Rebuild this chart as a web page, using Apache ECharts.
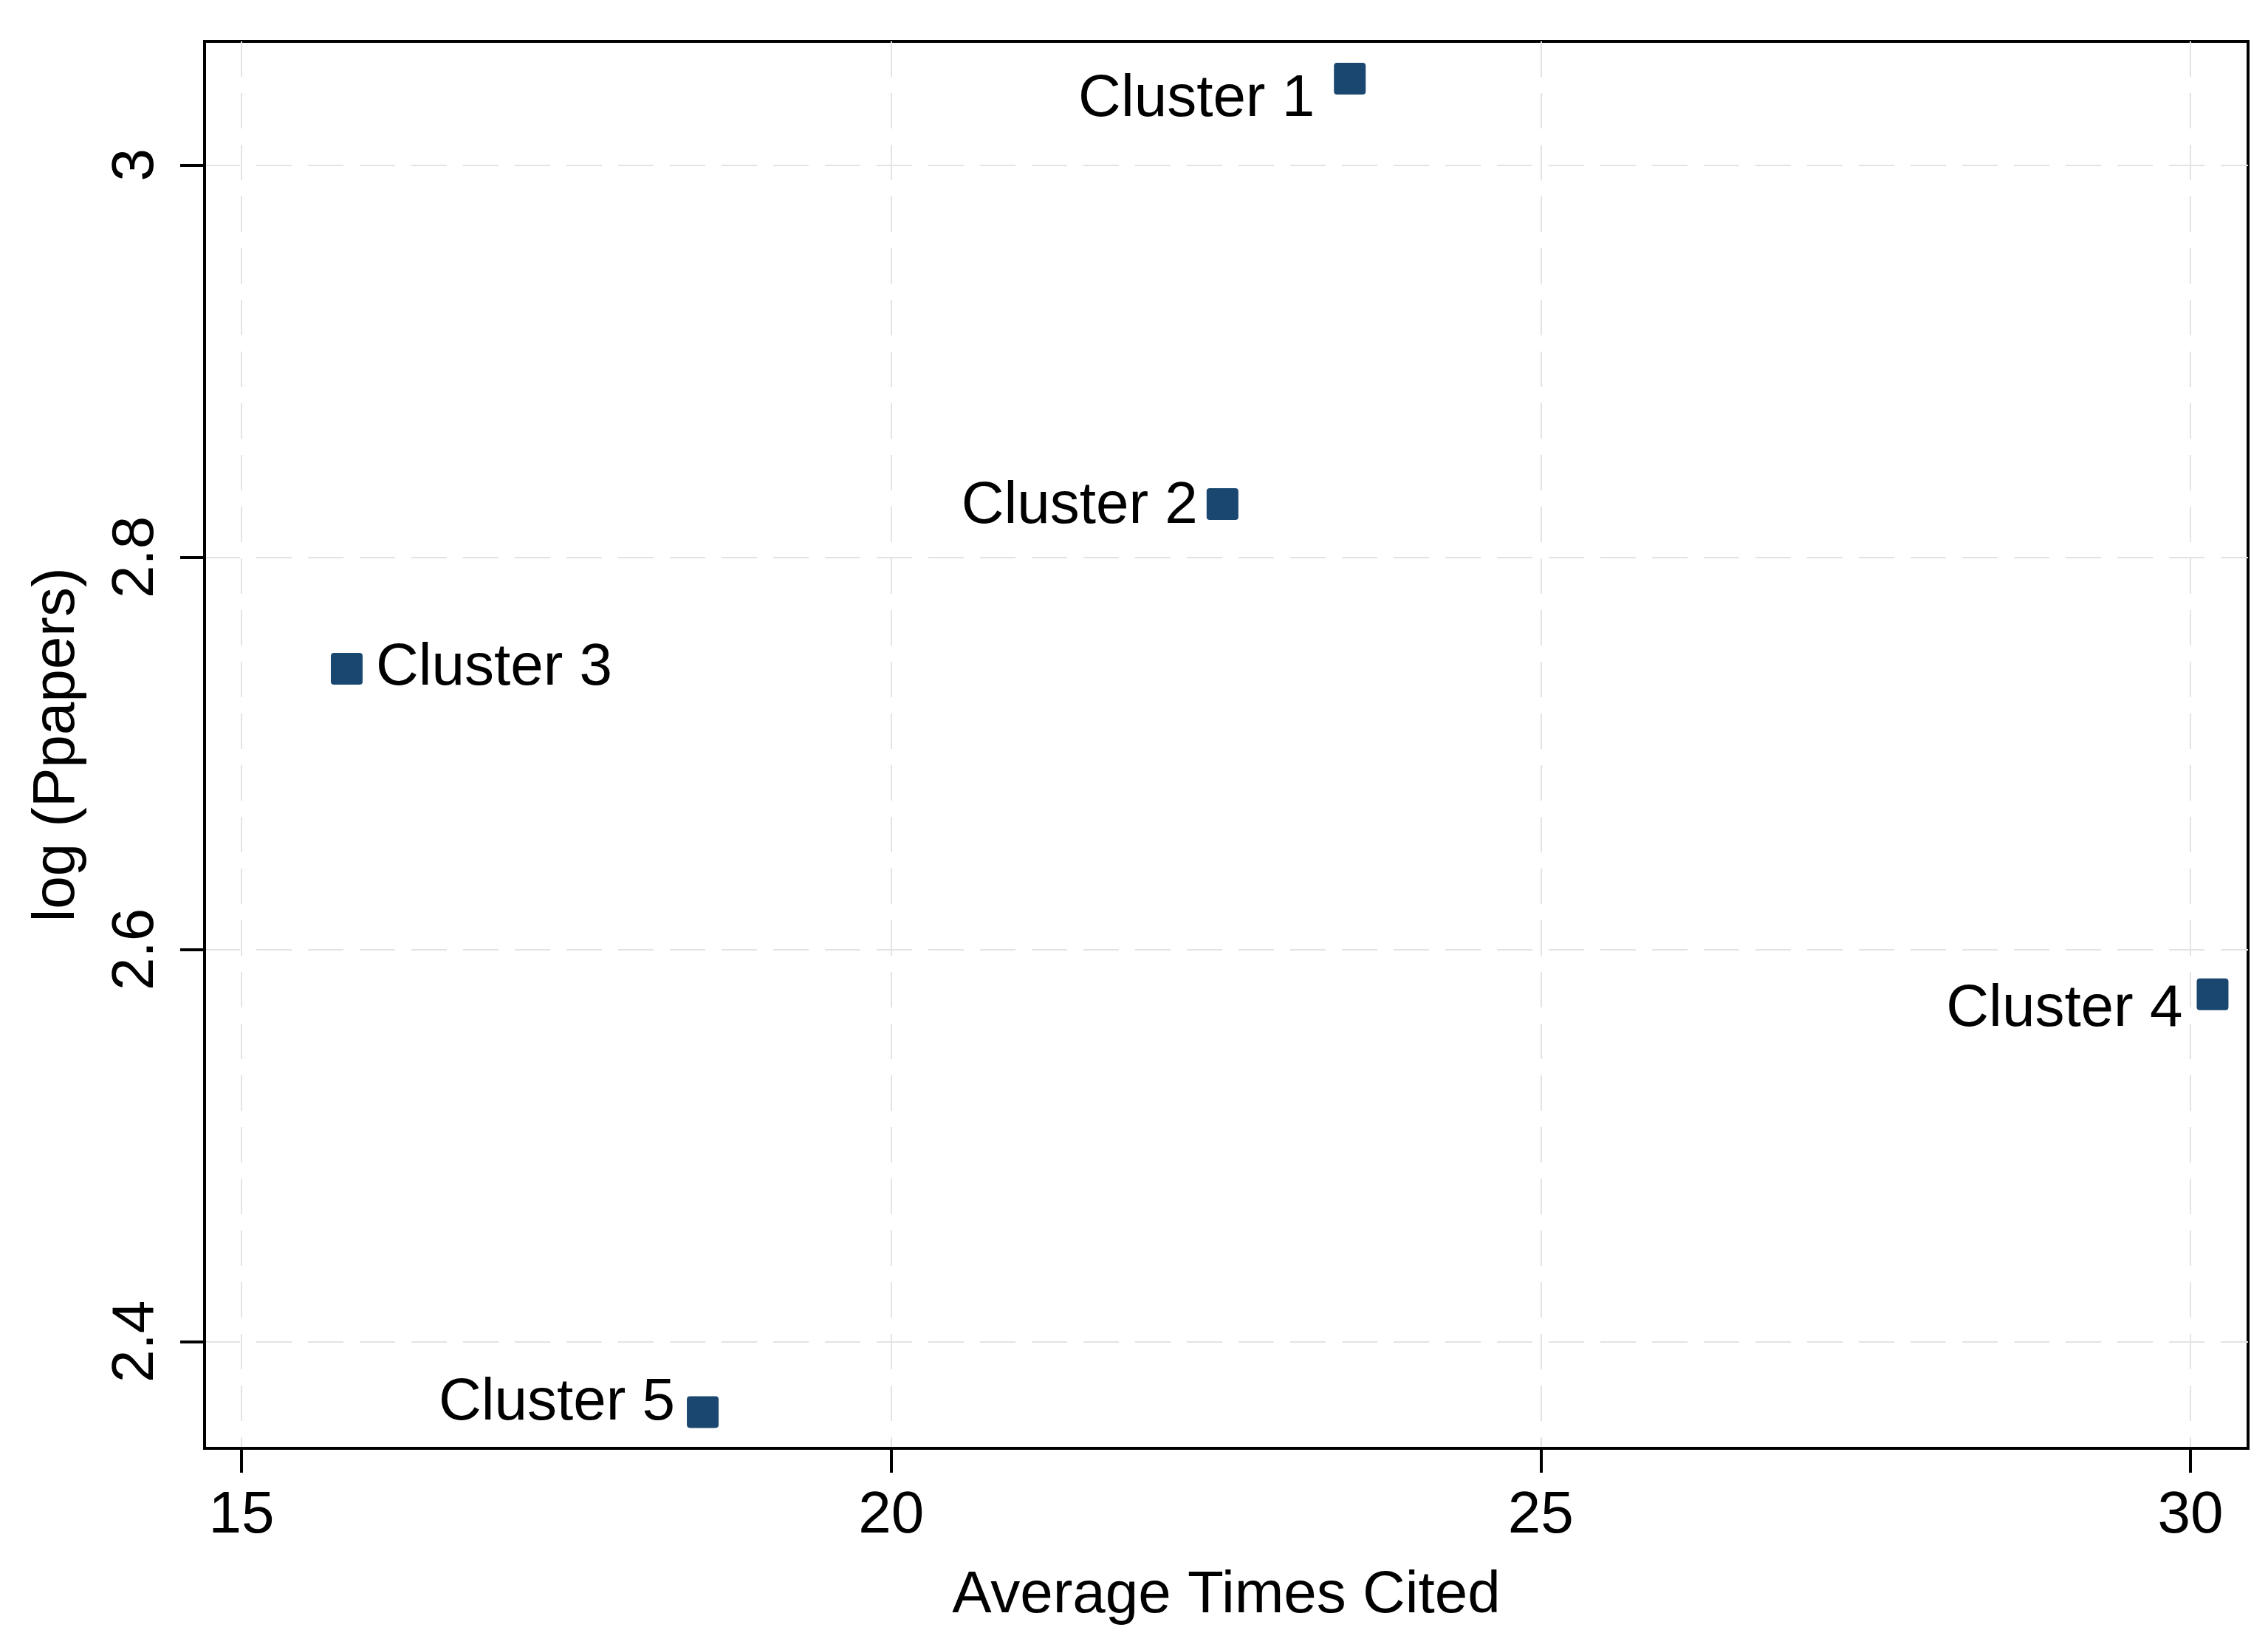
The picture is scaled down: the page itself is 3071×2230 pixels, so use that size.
<!DOCTYPE html>
<html>
<head>
<meta charset="utf-8">
<script src="https://cdn.jsdelivr.net/npm/echarts@6/dist/echarts.min.js"></script>
<style>
html,body{margin:0;padding:0;background:#fff;}
#chart{width:3071px;height:2230px;}
</style>
</head>
<body>
<div id="chart"></div>
<script>
// ---- data ----
const clusterNames = ['Cluster 1', 'Cluster 2', 'Cluster 3', 'Cluster 4', 'Cluster 5'];
const avgTimesCited = [23.53, 22.55, 15.81, 30.17, 18.55];
const logPapers = [3.044, 2.827, 2.743, 2.577, 2.364];
const xTicks = [15, 20, 25, 30];
const yTicks = [2.4, 2.6, 2.8, 3];
const xTitle = 'Average Times Cited';
const yTitle = 'log (Ppapers)';

// ---- label placement (style only) ----
const labelPlacement = [
  { position: 'left', distance: 26, offset: [0, 28] },
  { position: 'left', distance: 12, offset: [0, 3] },
  { position: 'right', distance: 18, offset: [0, -1] },
  { position: 'left', distance: 19, offset: [0, 21] },
  { position: 'left', distance: 16, offset: [0, -12] }
];

const FONT = '"Liberation Sans", Arial, Helvetica, sans-serif';
const navy = '#1a476f';
const gridColor = '#e3e3e3';

const seriesData = clusterNames.map((n, i) => ({
  name: n,
  value: [avgTimesCited[i], logPapers[i]],
  label: Object.assign({}, labelPlacement[i])
}));

const chart = echarts.init(document.getElementById('chart'), null, { renderer: 'canvas' });
chart.setOption({
  animation: false,
  backgroundColor: '#fff',
  grid: {
    left: 277, right: 27, top: 56, bottom: 269,
    show: true, borderColor: '#000', borderWidth: 4, backgroundColor: 'transparent'
  },
  xAxis: {
    type: 'value',
    min: 14.716, max: 30.443,
    name: xTitle,
    nameLocation: 'middle',
    nameGap: 160,
    nameTextStyle: { fontFamily: FONT, fontSize: 80, color: '#000' },
    axisLine: { show: true, onZero: false, lineStyle: { color: '#000', width: 4 } },
    axisTick: { show: true, length: 33, lineStyle: { color: '#000', width: 4 }, customValues: xTicks },
    axisLabel: { fontFamily: FONT, fontSize: 80, color: '#000', margin: 52, customValues: xTicks },
    splitLine: { show: true, lineStyle: { color: gridColor, width: 2, type: [48, 22] } }
  },
  yAxis: {
    type: 'value',
    min: 2.3455, max: 3.063,
    name: yTitle,
    nameLocation: 'middle',
    nameGap: 159,
    nameRotate: 90,
    nameTextStyle: { fontFamily: FONT, fontSize: 80, color: '#000' },
    axisLine: { show: true, onZero: false, lineStyle: { color: '#000', width: 4 } },
    axisTick: { show: true, length: 33, lineStyle: { color: '#000', width: 4 }, customValues: yTicks },
    axisLabel: { fontFamily: FONT, fontSize: 80, color: '#000', margin: 52, rotate: 90, customValues: yTicks },
    splitLine: { show: true, lineStyle: { color: gridColor, width: 2, type: [48, 22] } }
  },
  series: [{
    type: 'scatter',
    symbol: 'path://M1,0 H9 Q10,0 10,1 V9 Q10,10 9,10 H1 Q0,10 0,9 V1 Q0,0 1,0 Z',
    symbolSize: 43,
    itemStyle: { color: navy, opacity: 1 },
    label: {
      show: true,
      formatter: p => p.name,
      fontFamily: FONT,
      fontSize: 80,
      color: '#000'
    },
    emphasis: { disabled: true },
    data: seriesData
  }]
});
</script>
</body>
</html>
